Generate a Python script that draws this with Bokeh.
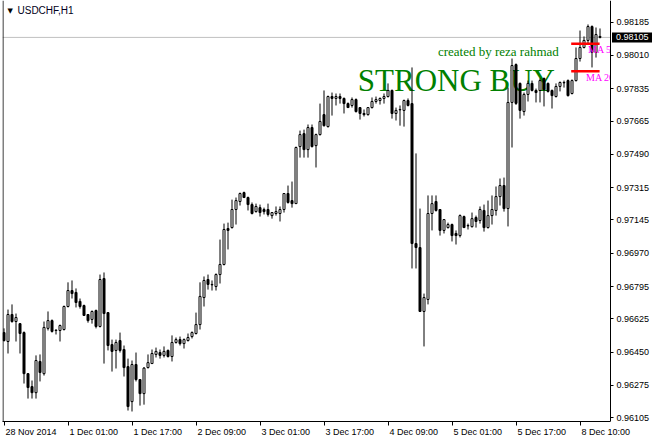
from bokeh.plotting import figure
from bokeh.models import (Range1d, LinearAxis, FixedTicker, PrintfTickFormatter,
                          Label, Span, ColumnDataSource)
from bokeh.core.properties import value
from bokeh.embed import file_html
from bokeh.resources import INLINE

# ---------------- data (USDCHF H1 candles) ----------------
open_ = [0.96553, 0.96506, 0.96648, 0.96611, 0.96600, 0.96553, 0.96337, 0.96269, 0.96237, 0.96401,
         0.96337, 0.96575, 0.96616, 0.96564, 0.96564, 0.96569, 0.96690, 0.96774, 0.96764, 0.96717,
         0.96695, 0.96648, 0.96622, 0.96669, 0.96585, 0.96837, 0.96658, 0.96490, 0.96459, 0.96511,
         0.96464, 0.96374, 0.96190, 0.96385, 0.96306, 0.96232, 0.96369, 0.96390, 0.96438, 0.96448,
         0.96433, 0.96459, 0.96427, 0.96501, 0.96516, 0.96495, 0.96511, 0.96532, 0.96548, 0.96595,
         0.96737, 0.96832, 0.96806, 0.96795, 0.96858, 0.96911, 0.97100, 0.97105, 0.97200, 0.97242,
         0.97289, 0.97263, 0.97226, 0.97189, 0.97210, 0.97200, 0.97200, 0.97168, 0.97179, 0.97179,
         0.97200, 0.97284, 0.97247, 0.97231, 0.97531, 0.97599, 0.97515, 0.97631, 0.97536, 0.97594,
         0.97699, 0.97636, 0.97794, 0.97784, 0.97794, 0.97784, 0.97757, 0.97747, 0.97778, 0.97736,
         0.97705, 0.97699, 0.97736, 0.97768, 0.97773, 0.97784, 0.97794, 0.97826, 0.97705, 0.97726,
         0.97721, 0.97773, 0.97757, 0.97021, 0.97000, 0.96664, 0.96727, 0.97179, 0.97242, 0.97200,
         0.97090, 0.97105, 0.97121, 0.97074, 0.97063, 0.97163, 0.97116, 0.97110, 0.97158, 0.97142,
         0.97195, 0.97105, 0.97168, 0.97195, 0.97268, 0.97326, 0.97205, 0.97763, 0.97962, 0.97863,
         0.97715, 0.97805, 0.97863, 0.97826, 0.97826, 0.97889, 0.97863, 0.97826, 0.97794, 0.97847,
         0.97868, 0.97878, 0.97810, 0.97878, 0.97994, 0.98052, 0.98089, 0.98162, 0.98026, 0.98110]
high = [0.96575, 0.96674, 0.96701, 0.96653, 0.96603, 0.96559, 0.96340, 0.96301, 0.96433, 0.96438,
        0.96611, 0.96664, 0.96622, 0.96569, 0.96595, 0.96695, 0.96817, 0.96827, 0.96785, 0.96732,
        0.96700, 0.96650, 0.96669, 0.96674, 0.96858, 0.96869, 0.96660, 0.96516, 0.96516, 0.96553,
        0.96485, 0.96416, 0.96406, 0.96448, 0.96308, 0.96372, 0.96438, 0.96464, 0.96474, 0.96464,
        0.96480, 0.96464, 0.96538, 0.96527, 0.96532, 0.96522, 0.96548, 0.96559, 0.96658, 0.96817,
        0.96848, 0.96858, 0.96827, 0.96864, 0.97042, 0.97126, 0.97131, 0.97252, 0.97263, 0.97289,
        0.97294, 0.97268, 0.97237, 0.97231, 0.97226, 0.97210, 0.97231, 0.97186, 0.97216, 0.97216,
        0.97286, 0.97326, 0.97347, 0.97531, 0.97615, 0.97620, 0.97647, 0.97647, 0.97599, 0.97757,
        0.97826, 0.97799, 0.97815, 0.97810, 0.97810, 0.97789, 0.97763, 0.97789, 0.97784, 0.97739,
        0.97726, 0.97738, 0.97789, 0.97794, 0.97789, 0.97810, 0.97863, 0.97831, 0.97736, 0.97747,
        0.97778, 0.97784, 0.97947, 0.97495, 0.97205, 0.96758, 0.97274, 0.97274, 0.97274, 0.97202,
        0.97150, 0.97131, 0.97126, 0.97090, 0.97174, 0.97168, 0.97126, 0.97184, 0.97168, 0.97216,
        0.97226, 0.97247, 0.97274, 0.97321, 0.97363, 0.97368, 0.97841, 0.97994, 0.97968, 0.97868,
        0.97815, 0.97878, 0.97878, 0.97836, 0.97889, 0.97894, 0.97868, 0.97831, 0.97863, 0.97873,
        0.97878, 0.97884, 0.97884, 0.98052, 0.98141, 0.98110, 0.98173, 0.98168, 0.98157, 0.98152]
low = [0.96506, 0.96443, 0.96605, 0.96506, 0.96443, 0.96285, 0.96206, 0.96206, 0.96206, 0.96296,
       0.96327, 0.96564, 0.96553, 0.96543, 0.96506, 0.96564, 0.96685, 0.96732, 0.96685, 0.96679,
       0.96640, 0.96605, 0.96600, 0.96575, 0.96580, 0.96390, 0.96459, 0.96348, 0.96364, 0.96448,
       0.96322, 0.96143, 0.96138, 0.96296, 0.96169, 0.96174, 0.96364, 0.96388, 0.96422, 0.96416,
       0.96422, 0.96422, 0.96401, 0.96495, 0.96485, 0.96469, 0.96506, 0.96522, 0.96543, 0.96569,
       0.96690, 0.96779, 0.96774, 0.96774, 0.96811, 0.96906, 0.96990, 0.97100, 0.97121, 0.97221,
       0.97261, 0.97195, 0.97174, 0.97184, 0.97163, 0.97174, 0.97163, 0.97152, 0.97168, 0.97137,
       0.97184, 0.97231, 0.97210, 0.97229, 0.97473, 0.97473, 0.97473, 0.97526, 0.97421, 0.97589,
       0.97636, 0.97631, 0.97694, 0.97747, 0.97757, 0.97705, 0.97734, 0.97736, 0.97710, 0.97673,
       0.97689, 0.97694, 0.97731, 0.97757, 0.97752, 0.97757, 0.97789, 0.97678, 0.97668, 0.97641,
       0.97636, 0.97742, 0.96890, 0.96890, 0.96661, 0.96480, 0.96701, 0.97090, 0.97189, 0.97063,
       0.97074, 0.97100, 0.97032, 0.97016, 0.97053, 0.97103, 0.97095, 0.97105, 0.97105, 0.97126,
       0.97084, 0.97100, 0.97121, 0.97168, 0.97221, 0.97189, 0.97111, 0.97526, 0.97750, 0.97678,
       0.97694, 0.97768, 0.97821, 0.97763, 0.97763, 0.97742, 0.97815, 0.97731, 0.97789, 0.97821,
       0.97841, 0.97794, 0.97805, 0.97873, 0.97978, 0.98047, 0.98073, 0.97947, 0.97999, 0.98100]
close = [0.96511, 0.96648, 0.96611, 0.96632, 0.96548, 0.96337, 0.96264, 0.96237, 0.96406, 0.96343,
         0.96580, 0.96616, 0.96559, 0.96566, 0.96590, 0.96690, 0.96774, 0.96758, 0.96711, 0.96690,
         0.96643, 0.96616, 0.96664, 0.96585, 0.96832, 0.96653, 0.96485, 0.96454, 0.96501, 0.96459,
         0.96369, 0.96164, 0.96385, 0.96306, 0.96232, 0.96366, 0.96395, 0.96443, 0.96454, 0.96433,
         0.96454, 0.96427, 0.96501, 0.96516, 0.96495, 0.96516, 0.96527, 0.96553, 0.96595, 0.96743,
         0.96827, 0.96806, 0.96804, 0.96858, 0.96911, 0.97095, 0.97090, 0.97200, 0.97247, 0.97284,
         0.97263, 0.97226, 0.97179, 0.97216, 0.97184, 0.97189, 0.97174, 0.97184, 0.97189, 0.97200,
         0.97284, 0.97237, 0.97231, 0.97526, 0.97594, 0.97515, 0.97631, 0.97531, 0.97594, 0.97663,
         0.97641, 0.97794, 0.97784, 0.97794, 0.97784, 0.97757, 0.97736, 0.97778, 0.97715, 0.97705,
         0.97699, 0.97736, 0.97768, 0.97778, 0.97784, 0.97794, 0.97826, 0.97705, 0.97721, 0.97724,
         0.97773, 0.97747, 0.97021, 0.97000, 0.96664, 0.96737, 0.97179, 0.97231, 0.97195, 0.97090,
         0.97147, 0.97121, 0.97063, 0.97063, 0.97168, 0.97105, 0.97114, 0.97152, 0.97137, 0.97200,
         0.97105, 0.97168, 0.97200, 0.97268, 0.97326, 0.97205, 0.97763, 0.97957, 0.97758, 0.97721,
         0.97805, 0.97863, 0.97826, 0.97815, 0.97878, 0.97831, 0.97821, 0.97799, 0.97847, 0.97868,
         0.97866, 0.97799, 0.97878, 0.97994, 0.98052, 0.98089, 0.98162, 0.98026, 0.98120, 0.98105]
bar_index = list(range(len(open_)))

x_tick_bars = [0, 16, 32, 48, 64, 80, 96, 112, 128, 144]
x_tick_labels = ["28 Nov 2014", "1 Dec 01:00", "1 Dec 17:00", "2 Dec 09:00", "3 Dec 01:00",
                 "3 Dec 17:00", "4 Dec 09:00", "5 Dec 01:00", "5 Dec 17:00", "8 Dec 10:00"]
y_ticks = [0.96105, 0.96275, 0.96450, 0.96625, 0.96795, 0.96970, 0.97145,
           0.97315, 0.97490, 0.97665, 0.97835, 0.98010, 0.98185]
current_price = 0.98105
ma_levels = [0.98071, 0.97927]
ma_labels = ["MA 5", "MA 20"]
symbol_label = "USDCHF,H1"
signature = "created by reza rahmad"
signal_text = "STRONG BUY"

# ---------------- layout constants ----------------
FIG_W, FIG_H = 652, 439
BORDER_L, BORDER_T, BORDER_R, BORDER_B = 2, 0, 0, 18
FRAME_W = FIG_W - BORDER_L - BORDER_R
FRAME_H = FIG_H - BORDER_T - BORDER_B
PX_PER_BAR = 4.0
X0 = -1.5 / PX_PER_BAR                  # first candle centred 1.5 px right of the frame edge
X1 = X0 + FRAME_W / PX_PER_BAR
X_AXIS = X0 + 607.5 / PX_PER_BAR        # price scale line position inside the frame
Y1, Y0 = 0.98299, 0.960854
LBL_FONT = "Liberation Sans"
LBL_SIZE = 9
LBL_W = (6 * 0.556 + 0.278) * LBL_SIZE  # width of a "0.98185" style label
LBL_GAP = 6

p = figure(width=FIG_W, height=FIG_H, output_backend="svg", toolbar_location=None,
           x_range=Range1d(X0, X1), y_range=Range1d(Y0, Y1),
           x_axis_location=None, y_axis_location=None,
           min_border_left=BORDER_L, min_border_top=BORDER_T,
           min_border_right=BORDER_R, min_border_bottom=BORDER_B)
p.grid.visible = False
p.background_fill_color = "white"
p.border_fill_color = "white"
p.outline_line_color = None

# price scale: drawn at a fixed x inside the frame, labels to the right of its line
yaxis = LinearAxis(ticker=FixedTicker(ticks=y_ticks),
                   formatter=PrintfTickFormatter(format="%.5f"),
                   fixed_location=X_AXIS,
                   axis_line_color="black", major_tick_line_color="black",
                   major_tick_out=0, major_tick_in=3, minor_tick_line_color=None,
                   major_label_standoff=-int(round(LBL_W + LBL_GAP)),
                   major_label_text_font=LBL_FONT,
                   major_label_text_font_size=f"{LBL_SIZE}px", major_label_text_color="black")
p.add_layout(yaxis, "left")

# time scale: tick marks at the bars (minor ticks), labels start right of the marks
ARIAL_W = {" ": .278, ":": .278, "D": .722, "N": .722, "e": .556, "c": .5, "o": .556, "v": .5}
def text_px(s):
    return sum(ARIAL_W.get(ch, .556) for ch in s) * LBL_SIZE

label_pos = [t + (text_px(s) / 2 + 1.5) / PX_PER_BAR for t, s in zip(x_tick_bars, x_tick_labels)]
xaxis = LinearAxis(ticker=FixedTicker(ticks=label_pos, minor_ticks=x_tick_bars),
                   major_label_overrides={lp: s for lp, s in zip(label_pos, x_tick_labels)},
                   bounds=(X0, X_AXIS),
                   axis_line_color="black", major_tick_line_color=None,
                   major_tick_out=4, major_tick_in=0,
                   minor_tick_line_color="black", minor_tick_out=4, minor_tick_in=0,
                   major_label_standoff=1, major_label_text_font=LBL_FONT,
                   major_label_text_font_size=f"{LBL_SIZE}px", major_label_text_color="black")
p.add_layout(xaxis, "below")

# chart window left border
p.add_layout(Span(location=X0 + 0.5 / PX_PER_BAR, dimension="height",
                  line_color="black", line_width=1))

# big texts (behind candles)
p.add_layout(Label(x=123.6, y=0.98032, text=signature, text_align="center",
                   text_baseline="middle", text_font="Liberation Serif",
                   text_font_size="13px", text_color="#008000", level="underlay"))
p.add_layout(Label(x=113.1, y=0.97878, text=signal_text, text_align="center",
                   text_baseline="alphabetic", text_font="Liberation Serif",
                   text_font_size="31px", text_color="#008000", level="underlay"))

# current price line
p.segment(x0=[X0], x1=[X_AXIS], y0=[current_price], y1=[current_price],
          line_color="#C0C0C0", line_width=1)

# candles
src = ColumnDataSource(dict(
    x=bar_index, high=high, low=low,
    top=[max(o, c) for o, c in zip(open_, close)],
    bottom=[min(o, c) for o, c in zip(open_, close)],
    fill=["white" if c >= o else "black" for o, c in zip(open_, close)]))
p.segment(x0="x", y0="high", x1="x", y1="low", source=src, line_color="black", line_width=1)
p.vbar(x="x", width=0.5, top="top", bottom="bottom", fill_color="fill",
       line_color="black", line_width=1, source=src)

# moving-average level markers
ma_x0 = bar_index[-8] - 0.2
ma_x1 = bar_index[-1] - 0.1
p.segment(x0=[ma_x0] * len(ma_levels), x1=[ma_x1] * len(ma_levels), y0=ma_levels, y1=ma_levels,
          line_color="red", line_width=2.5)
p.text(x=[bar_index[-4], bar_index[-4] - 0.5], y=ma_levels, text=ma_labels, y_offset=6,
       text_baseline="middle", text_align="left", text_font=value("Liberation Serif"),
       text_font_size="10px", text_color="#FF00FF")

# price-scale strip is blank (hides chart content beyond the scale line)
p.quad(left=[X_AXIS], right=[X1], bottom=[Y0], top=[Y1], fill_color="white", line_color=None)

# current price tag on the price scale
p.rect(x=[X_AXIS + (2 + 20.5) / PX_PER_BAR], y=[current_price], width=41, height=10,
       width_units="screen", height_units="screen", fill_color="black", line_color=None)
p.text(x=[X_AXIS], y=[current_price], text=[f"{current_price:.5f}"], x_offset=LBL_GAP,
       text_align="left", text_baseline="middle", text_font=value(LBL_FONT),
       text_font_size=f"{LBL_SIZE}px", text_color="white")

# symbol caption
p.add_layout(Label(x=5, y=FRAME_H - 10, x_units="screen", y_units="screen", text="\u25BC",
                   text_baseline="middle", text_font="DejaVu Sans", text_font_size="7px",
                   text_color="black"))
p.add_layout(Label(x=15, y=FRAME_H - 10, x_units="screen", y_units="screen", text=symbol_label,
                   text_baseline="middle", text_font=LBL_FONT, text_font_size="10px",
                   text_color="#000020"))

open("out.html", "w").write(file_html(p, INLINE))
